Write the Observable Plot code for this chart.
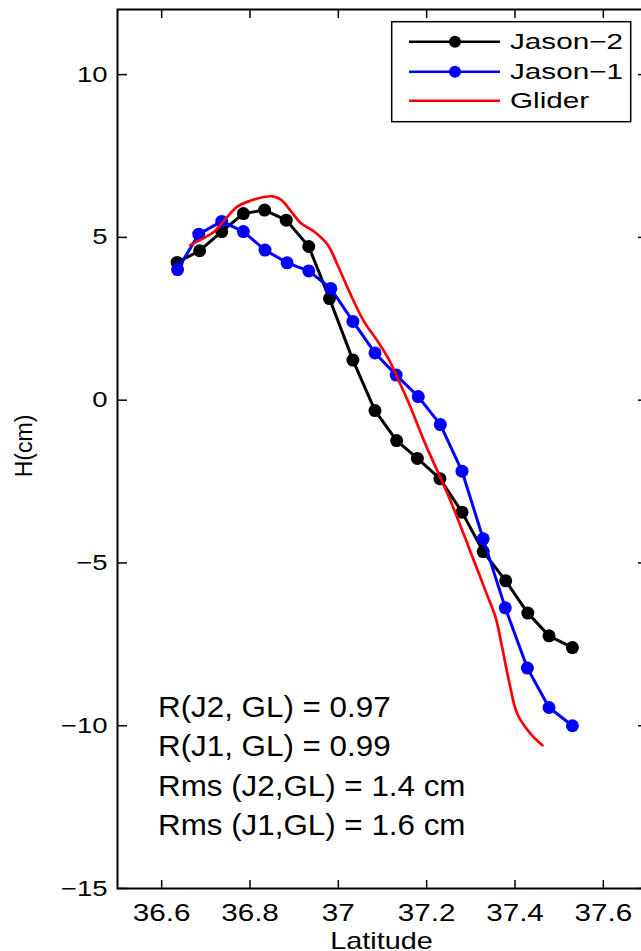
<!DOCTYPE html>
<html><head><meta charset="utf-8">
<script src="https://cdn.jsdelivr.net/npm/d3@7"></script>
<script src="https://cdn.jsdelivr.net/npm/@observablehq/plot@0.6"></script>
<style>body{margin:0;background:#fff;}</style>
</head><body><div id="chart"></div>
<script>
// ---- data ----
const j2Lat = [36.635, 36.686, 36.736, 36.785, 36.833, 36.882, 36.933, 36.980, 37.033, 37.083, 37.132, 37.179, 37.230, 37.280, 37.328, 37.379, 37.429, 37.477, 37.530];
const j2H   = [4.23, 4.59, 5.18, 5.73, 5.84, 5.53, 4.72, 3.12, 1.23, -0.32, -1.24, -1.79, -2.41, -3.44, -4.65, -5.55, -6.54, -7.24, -7.60];
const j1Lat = [36.636, 36.684, 36.736, 36.785, 36.834, 36.884, 36.933, 36.983, 37.033, 37.083, 37.131, 37.181, 37.231, 37.280, 37.328, 37.378, 37.428, 37.477, 37.530];
const j1H   = [4.01, 5.10, 5.49, 5.18, 4.61, 4.22, 3.97, 3.43, 2.42, 1.45, 0.77, 0.11, -0.75, -2.18, -4.26, -6.38, -8.23, -9.44, -10.00];
const glLat = [36.665, 36.689, 36.719, 36.746, 36.772, 36.802, 36.832, 36.851, 36.870, 36.893, 36.915, 36.945, 36.976, 36.998, 37.028, 37.058, 37.089, 37.114, 37.137, 37.164, 37.194, 37.224, 37.254, 37.284, 37.307, 37.333, 37.356, 37.371, 37.386, 37.405, 37.435, 37.462];
const glH   = [4.77, 4.93, 5.18, 5.59, 5.95, 6.13, 6.24, 6.26, 6.16, 5.80, 5.44, 5.18, 4.77, 4.16, 3.24, 2.42, 1.81, 1.26, 0.59, -0.23, -1.25, -2.17, -3.09, -4.12, -4.93, -5.85, -6.67, -7.60, -8.60, -9.63, -10.24, -10.60];
const xTicks = [36.6, 36.8, 37.0, 37.2, 37.4, 37.6];
const yTicks = [-15, -10, -5, 0, 5, 10];
const seriesNames = ["Jason\u22122", "Jason\u22121", "Glider"];
const seriesColors = ["#000000", "#0000ff", "#ff0000"];
const statsLines = ["R(J2, GL) = 0.97", "R(J1, GL) = 0.99", "Rms (J2,GL) = 1.4 cm", "Rms (J1,GL) = 1.6 cm"];
const xLabel = "Latitude";
const yLabel = "H(cm)";

const j2 = j2Lat.map((x, i) => ({lat: x, h: j2H[i]}));
const j1 = j1Lat.map((x, i) => ({lat: x, h: j1H[i]}));
const gl = glLat.map((x, i) => ({lat: x, h: glH[i]}));

const font = "'Liberation Sans', Arial, Helvetica, sans-serif";
const fmtX = d => String(+d.toFixed(1));
const fmtY = d => (d < 0 ? "\u2212" : "") + Math.abs(d);

const plot = Plot.plot({
  width: 641, height: 951,
  marginLeft: 117, marginRight: -6, marginTop: 9, marginBottom: 63,
  style: {fontFamily: font, background: "#fff", color: "#000"},
  x: {domain: [36.5, 37.7]},
  y: {domain: [-15, 12]},
  marks: [
    Plot.line(j2, {x: "lat", y: "h", stroke: seriesColors[0], strokeWidth: 3}),
    Plot.dot(j2, {x: "lat", y: "h", r: 6.5, fill: seriesColors[0]}),
    Plot.line(j1, {x: "lat", y: "h", stroke: seriesColors[1], strokeWidth: 3}),
    Plot.dot(j1, {x: "lat", y: "h", r: 6.5, fill: seriesColors[1]}),
    Plot.line(gl, {x: "lat", y: "h", stroke: seriesColors[2], strokeWidth: 2.7, curve: "catmull-rom"}),
    Plot.axisX(xTicks, {anchor: "bottom", tickSize: -8, tickPadding: 23, fontSize: 24, label: null, strokeWidth: 1.5, tickFormat: fmtX}),
    Plot.axisX(xTicks, {anchor: "top", tickSize: -8, tickFormat: () => "", label: null, strokeWidth: 1.5}),
    Plot.axisY(yTicks, {anchor: "left", tickSize: -10, tickPadding: 20, fontSize: 22, label: null, strokeWidth: 1.5, tickFormat: fmtY}),
    Plot.axisY(yTicks, {anchor: "right", tickSize: -10, tickFormat: () => "", label: null, strokeWidth: 1.5}),
    Plot.frame({stroke: "#000", strokeWidth: 2})
  ]
});
document.getElementById("chart").append(plot);

const svg = d3.select(plot);
function stretch(sel, k) {
  sel.each(function () {
    const w = this.getComputedTextLength();
    if (w > 0) { this.setAttribute("textLength", w * k); this.setAttribute("lengthAdjust", "spacingAndGlyphs"); }
  });
}
stretch(svg.selectAll('g[aria-label="x-axis tick label"] text'), 1.235);
stretch(svg.selectAll('g[aria-label="y-axis tick label"] text'), 1.25);

// axis titles
const xt = svg.append("text").attr("x", 381.5).attr("y", 949).attr("text-anchor", "middle")
  .attr("font-family", font).attr("font-size", 24).attr("fill", "#000").text(xLabel);
stretch(xt, 1.2);
svg.append("text").attr("transform", "translate(32,446) rotate(-90)").attr("text-anchor", "middle")
  .attr("font-family", font).attr("font-size", 23).attr("fill", "#000").text(yLabel);

// statistics annotation
const ann = svg.append("g").attr("font-family", font).attr("font-size", 30).attr("fill", "#000").attr("text-anchor", "start");
const baselines = [716.7, 756, 795.5, 834.5];
statsLines.forEach((s, i) => {
  const t = ann.append("text").attr("x", 158).attr("y", baselines[i]).attr("text-anchor", "start").text(s);
  stretch(t, 1.045);
});

// legend
const lg = svg.append("g").attr("text-anchor", "start");
lg.append("rect").attr("x", 391.7).attr("y", 21.7).attr("width", 239).attr("height", 100)
  .attr("fill", "#fff").attr("stroke", "#000").attr("stroke-width", 1.5);
const rows = [41.7, 71.7, 100.7];
seriesNames.forEach((name, i) => {
  const y = rows[i];
  lg.append("line").attr("x1", 409).attr("x2", 500).attr("y1", y).attr("y2", y)
    .attr("stroke", seriesColors[i]).attr("stroke-width", 2.5);
  if (i < 2) lg.append("circle").attr("cx", 455).attr("cy", y).attr("r", 6).attr("fill", seriesColors[i]);
  const t = lg.append("text").attr("x", 510).attr("y", y).attr("dy", "0.35em").attr("text-anchor", "start")
    .attr("font-family", font).attr("font-size", 22).attr("fill", "#000").text(name);
  stretch(t, 1.35);
});
</script>
</body></html>
